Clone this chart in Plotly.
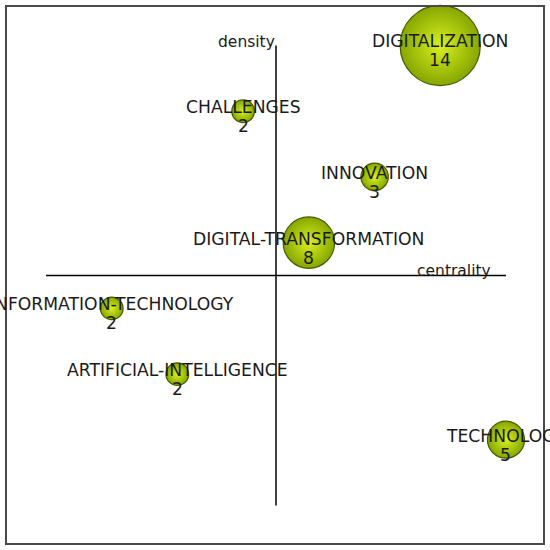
import plotly.graph_objects as go

# strategic diagram: themes by centrality (x) and density (y)
themes = ["DIGITALIZATION", "CHALLENGES", "INNOVATION", "DIGITAL-TRANSFORMATION",
          "INFORMATION-TECHNOLOGY", "ARTIFICIAL-INTELLIGENCE", "TECHNOLOGY"]
centrality = [0.714, -0.143, 0.429, 0.143, -0.714, -0.429, 1.0]
density = [1.0, 0.714, 0.429, 0.143, -0.143, -0.429, -0.714]
documents = [14, 2, 3, 8, 2, 2, 5]

FONT = "DejaVu Sans"
TXT = "#1a1a1a"

fig = go.Figure()

fig.add_trace(go.Scatter(
    x=centrality, y=density,
    mode="markers",
    marker=dict(
        size=[13 + 4.8 * n for n in documents],
        sizemode="diameter",
        color="#86a600",
        gradient=dict(type="radial", color="#d8f020"),
        line=dict(color="#445a00", width=1.2),
        opacity=1,
    ),
    hoverinfo="skip",
))

# theme name a bit above the bubble centre, document count below
for t, cx, cy, n in zip(themes, centrality, density, documents):
    fig.add_annotation(x=cx, y=cy, text=t, showarrow=False, yshift=4,
                       font=dict(family=FONT, size=17.2, color=TXT))
    fig.add_annotation(x=cx, y=cy, text=str(n), showarrow=False, yshift=-15,
                       font=dict(family=FONT, size=17.2, color=TXT))

# axis cross
fig.add_shape(type="line", x0=0, x1=0, y0=-1, y1=1, line=dict(color="black", width=1.5), layer="below")
fig.add_shape(type="line", x0=-1, x1=1, y0=0, y1=0, line=dict(color="black", width=1.5), layer="below")

# frame
fig.add_shape(type="rect", xref="paper", yref="paper",
              x0=6 / 545, x1=544 / 545, y0=6 / 550, y1=544 / 550,
              line=dict(color="#4a4a4a", width=2), layer="above")

fig.add_annotation(x=0, y=1.0, text="density", showarrow=False, xanchor="right", yanchor="bottom",
                   xshift=1, yshift=-8, font=dict(family=FONT, size=15.5, color=TXT))
fig.add_annotation(x=0.94, y=0, text="centrality", showarrow=False, xanchor="right", yanchor="bottom",
                   xshift=1, yshift=-7, font=dict(family=FONT, size=15.5, color=TXT))

fig.update_xaxes(range=[-1.2, 1.1696], visible=False, fixedrange=True)
fig.update_yaxes(range=[-1.1935, 1.1978], visible=False, fixedrange=True)

fig.update_layout(
    width=550, height=550,
    margin=dict(l=0, r=5, t=0, b=0),
    paper_bgcolor="white", plot_bgcolor="white",
    showlegend=False,
)

# drop the page's default body margin so the figure sits at the window corner
fig.write_html("out.html", config={"displayModeBar": False},
               post_script="document.body.style.margin='0';")
